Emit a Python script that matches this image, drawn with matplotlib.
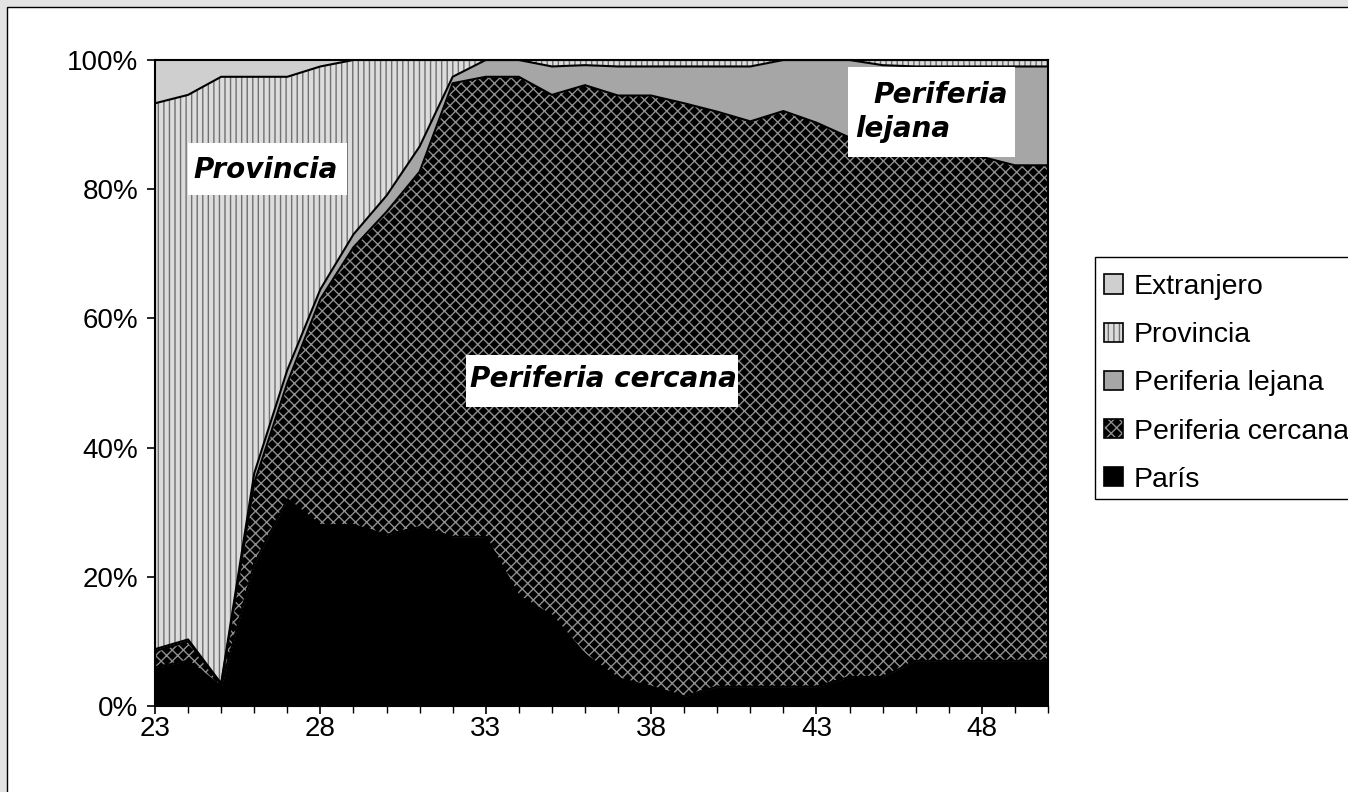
import numpy as np
import matplotlib.pyplot as plt
from matplotlib.patches import Patch, Rectangle

plt.rcParams['font.family'] = ['Liberation Sans', 'DejaVu Sans']
plt.rcParams['hatch.linewidth'] = 1.0

# Ages (categories) and shares in % per origin
ages = list(range(23, 51))
paris = [6, 7, 3, 22, 32, 28, 28, 26.5, 27.7, 26.2, 26.2, 17, 14, 8, 4.3, 3, 1.5, 3,
         3, 3, 3, 4.5, 4.5, 7, 7, 7, 7, 7]
cercana = [2.5, 3, 0.3, 12.5, 18, 35, 43, 50, 55, 70.2, 71.2, 80.4, 80.6, 88.1, 90.2,
           91.5, 91.8, 89, 87.5, 89.1, 87.3, 83.5, 82.5, 79, 78.5, 78, 76.7, 76.7]
lejana = [0.3, 0.3, 0.2, 1.5, 2, 1.5, 2, 2.5, 3.9, 1, 2.6, 2.6, 4.4, 3.1, 4.5, 4.5,
          5.7, 7, 8.5, 7.9, 9.7, 12, 12.2, 13, 13.5, 14, 15.3, 15.3]
provincia = [84.5, 84.3, 93.9, 61.4, 45.4, 34.5, 27, 21, 13.4, 2.6, 0, 0, 1, 0.8, 1, 1,
             1, 1, 1, 0, 0, 0, 0.8, 1, 1, 1, 1, 1]
extranjero = [6.7, 5.4, 2.6, 2.6, 2.6, 1, 0, 0, 0, 0, 0, 0, 0, 0, 0, 0, 0, 0, 0, 0, 0,
              0, 0, 0, 0, 0, 0, 0]

labels = ['París', 'Periferia cercana', 'Periferia lejana', 'Provincia', 'Extranjero']
# face colour, hatch, hatch colour
styles = [('black', None, 'black'),
          ('black', 'xxx', '#8e8e8e'),
          ('#a6a6a6', None, '#a6a6a6'),
          ('#dcdcdc', '|||', '#707070'),
          ('#cfcfcf', None, '#cfcfcf')]

series = np.array([paris, cercana, lejana, provincia, extranjero], dtype=float)
series = series / series.sum(axis=0) * 100
tops = np.cumsum(series, axis=0)

fig = plt.figure(figsize=(13.48, 7.92), dpi=100, facecolor='#e3e3e3')
fig.add_artist(Rectangle((7 / 1348, -0.05), 1.05, 1 - 7 / 792 + 0.05,
                         transform=fig.transFigure, facecolor='white',
                         edgecolor='black', lw=1, zorder=0))
ax = fig.add_axes([155 / 1348, 86 / 792, 893 / 1348, 646 / 792])

handles = []
lower = np.zeros(len(ages))
for i, (face, hatch, hcol) in enumerate(styles):
    ax.fill_between(ages, lower, tops[i], facecolor=face, hatch=hatch,
                    edgecolor=hcol, linewidth=0, zorder=1)
    lower = tops[i]
    handles.append((Patch(facecolor=face, hatch=hatch, edgecolor=hcol, lw=0),
                    Patch(facecolor='none', edgecolor='black', lw=1.2)))
for i in range(len(styles) - 1):
    ax.plot(ages, tops[i], color='black', lw=1.5, zorder=2)

ax.set_xlim(23, 50)
ax.set_ylim(0, 100)
ax.set_xticks([23, 28, 33, 38, 43, 48])
ax.set_xticks(ages, minor=True)
ax.set_yticks([0, 20, 40, 60, 80, 100])
ax.set_yticklabels([f'{v}%' for v in [0, 20, 40, 60, 80, 100]])
ax.tick_params(axis='both', labelsize=20, direction='out', length=6, width=1.2)
ax.tick_params(axis='y', pad=6)
ax.tick_params(axis='x', pad=1)
ax.tick_params(axis='x', which='minor', length=5, width=1)
for sp in ax.spines.values():
    sp.set_linewidth(1.5)
    sp.set_zorder(3)

# white label boxes
txt = dict(family='DejaVu Sans', weight='bold', style='italic', fontsize=20, zorder=6,
           transform=ax.transAxes)
for (x0, y0, w, h) in [(0.0370, 0.7910, 0.1781, 0.0805),
                       (0.3483, 0.4628, 0.3046, 0.0805),
                       (0.7760, 0.8498, 0.1870, 0.1393)]:
    ax.add_patch(Rectangle((x0, y0), w, h, transform=ax.transAxes,
                           facecolor='white', edgecolor='none', zorder=5))
ax.text(0.0426, 0.8173, 'Provincia', ha='left', va='baseline', **txt)
ax.text(0.3527, 0.4938, 'Periferia cercana', ha='left', va='baseline', **txt)
ax.text(0.8040, 0.9330, 'Periferia', ha='left', va='baseline', **txt)
ax.text(0.7839, 0.8813, 'lejana', ha='left', va='baseline', **txt)

# legend frame (runs past the right edge) and entries
fig.add_artist(Rectangle((1095 / 1348, 1 - 499 / 792), 0.3, 242 / 792,
                         transform=fig.transFigure, facecolor='white',
                         edgecolor='black', lw=1, zorder=4))
leg = fig.legend(handles[::-1], labels[::-1], loc='upper left',
                 bbox_to_anchor=(1104 / 1348, 1 - 274 / 792), borderaxespad=0,
                 fontsize=20.5, handlelength=0.65, handleheight=0.65,
                 handletextpad=0.4, labelspacing=0.78, borderpad=0,
                 frameon=False)
leg.set_zorder(5)

fig.savefig('out.png', dpi=100, facecolor=fig.get_facecolor())
